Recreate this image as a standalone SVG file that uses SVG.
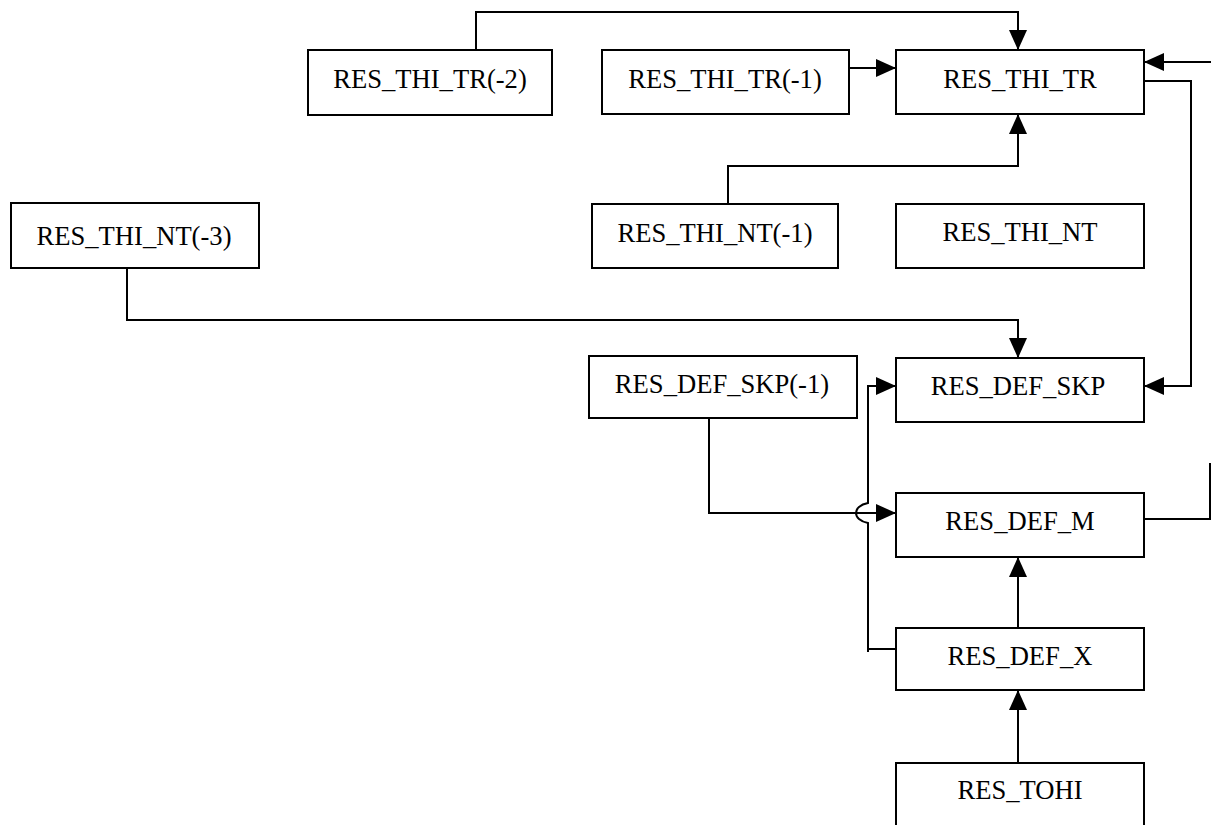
<svg xmlns="http://www.w3.org/2000/svg" width="1211" height="825" viewBox="0 0 1211 825">
<defs>
<style>
.box{fill:#fff;stroke:#000;stroke-width:2}
.lbl{font-family:"Liberation Serif","Times New Roman",serif;font-size:26.6px;fill:#000;text-anchor:middle}
.con{fill:none;stroke:#000;stroke-width:2}
</style>
<marker id="arr" markerUnits="userSpaceOnUse" markerWidth="20" markerHeight="18" refX="20" refY="9" orient="auto">
<path d="M0,0 L20,9 L0,18 z" fill="#000"/>
</marker>
</defs>
<rect width="1211" height="825" fill="#fff"/>
<g id="connectors">
<path class="con" d="M476,50 V12 H1018 V50" marker-end="url(#arr)"/>
<path class="con" d="M849,68 H896" marker-end="url(#arr)"/>
<path class="con" d="M728,204 V166 H1018 V114" marker-end="url(#arr)"/>
<path class="con" d="M127,261 V320 H1018 V358" marker-end="url(#arr)"/>
<path class="con" d="M1211,62 H1144" marker-end="url(#arr)"/>
<path class="con" d="M1142,81 H1191 V386 H1144" marker-end="url(#arr)"/>
<path class="con" d="M709,418 V513 H896" marker-end="url(#arr)"/>
<path class="con" d="M896,649 H868 V523 C852,520 852,506 868,503 V386 H896" marker-end="url(#arr)"/>
<path class="con" d="M868,649 V652"/>
<path class="con" d="M1018,628 V557" marker-end="url(#arr)"/>
<path class="con" d="M1018,763 V690" marker-end="url(#arr)"/>
<path class="con" d="M1144,519 H1210 V463"/>
</g>
<g id="n_thi_tr_m2"><rect class="box" x="308" y="50" width="244" height="65"/><text class="lbl" x="430" y="88">RES_THI_TR(-2)</text></g>
<g id="n_thi_tr_m1"><rect class="box" x="602" y="50" width="247" height="64"/><text class="lbl" x="725" y="88">RES_THI_TR(-1)</text></g>
<g id="n_thi_tr"><rect class="box" x="896" y="50" width="248" height="64"/><text class="lbl" x="1020" y="88">RES_THI_TR</text></g>
<g id="n_thi_nt_m3"><rect class="box" x="11" y="203" width="248" height="65"/><text class="lbl" x="134" y="245">RES_THI_NT(-3)</text></g>
<g id="n_thi_nt_m1"><rect class="box" x="592" y="204" width="246" height="64"/><text class="lbl" x="715" y="242">RES_THI_NT(-1)</text></g>
<g id="n_thi_nt"><rect class="box" x="896" y="204" width="248" height="64"/><text class="lbl" x="1020" y="241">RES_THI_NT</text></g>
<g id="n_def_skp_m1"><rect class="box" x="589" y="356" width="268" height="62"/><text class="lbl" x="722" y="393">RES_DEF_SKP(-1)</text></g>
<g id="n_def_skp"><rect class="box" x="896" y="358" width="248" height="64"/><text class="lbl" x="1018" y="395">RES_DEF_SKP</text></g>
<g id="n_def_m"><rect class="box" x="896" y="493" width="248" height="64"/><text class="lbl" x="1020" y="530">RES_DEF_M</text></g>
<g id="n_def_x"><rect class="box" x="896" y="628" width="248" height="62"/><text class="lbl" x="1020" y="665">RES_DEF_X</text></g>
<g id="n_tohi"><rect class="box" x="896" y="763" width="248" height="80"/><text class="lbl" x="1020" y="799">RES_TOHI</text></g>
</svg>
